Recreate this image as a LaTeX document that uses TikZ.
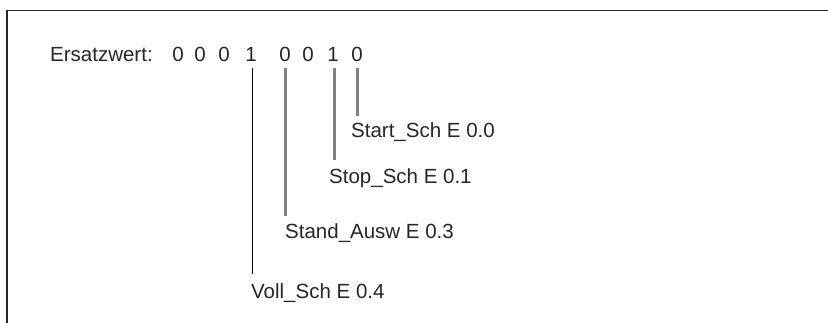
\documentclass[tikz,border=0pt]{standalone}
\usepackage{fontspec}
\setmainfont{Liberation Sans}
\begin{document}
\begin{tikzpicture}[x=1pt,y=-1pt,
  txt/.style={font=\fontsize{20.5}{24}\selectfont, text=black!85, inner sep=0pt},
  digit/.style={txt, anchor=base, inner ysep=6pt},
  lbl/.style={txt, anchor=base west},
  frame/.style={line width=1.8pt, black!85},
  blackline/.style={line width=0.8pt, black},
  grayline/.style={line width=3pt, black!50}
]
\useasboundingbox (0,0) rectangle (828,323);
\draw[frame] (7,323) -- (7,10.5) -- (828,10.5);
\node[txt, anchor=base west] (ew) at (50,61.5) {Ersatzwert:};
\node[digit] (d1) at (178,61.5) {0};
\node[digit] (d2) at (200,61.5) {0};
\node[digit] (d3) at (224,61.5) {0};
\node[digit] (d4) at (251,61.5) {1};
\node[digit] (d5) at (285,61.5) {0};
\node[digit] (d6) at (308,61.5) {0};
\node[digit] (d7) at (333,61.5) {1};
\node[digit] (d8) at (357,61.5) {0};
\node[lbl, inner ysep=7pt] (start) at (351,138) {Start\_Sch E 0.0};
\node[lbl, inner ysep=9pt] (stop) at (329,184) {Stop\_Sch E 0.1};
\node[lbl, inner ysep=8pt] (stand) at (285,239) {Stand\_Ausw E 0.3};
\node[lbl, inner ysep=10pt] (voll) at (251,299) {Voll\_Sch E 0.4};
\draw[blackline] ([xshift=1pt]d4.south) -- ([xshift=1pt]d4.south |- voll.north);
\draw[grayline] (d5.south) -- (d5.south |- stand.north);
\draw[grayline] ([xshift=1pt]d7.south) -- ([xshift=1pt]d7.south |- stop.north);
\draw[grayline] (d8.south) -- (d8.south |- start.north);
\end{tikzpicture}
\end{document}
